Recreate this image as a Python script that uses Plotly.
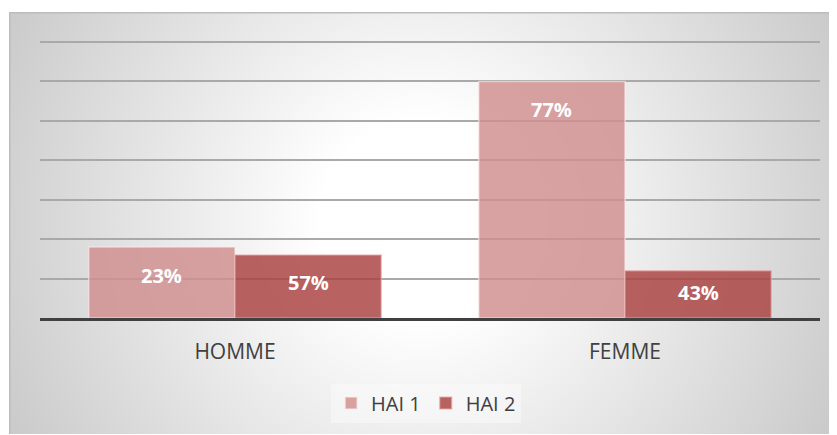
import base64
import plotly.graph_objects as go

categories = ["HOMME", "FEMME"]
hai1_values = [18, 60]
hai2_values = [16, 12]
series_names = ["HAI 1", "HAI 2"]

# percentage of each gender within each HAI series
hai1_pct = [f"{round(100 * v / sum(hai1_values)):d}%" for v in hai1_values]
hai2_pct = [f"{round(100 * v / sum(hai2_values)):d}%" for v in hai2_values]

OFF = 8  # default body margin of the page
W, H = 837 - OFF, 435 - OFF
ML, MT = 40 - OFF, 40 - OFF
MR, MB = 17, 117
PW, PH = W - ML - MR, H - MT - MB
YMAX = 70.5

# radial gradient background (Excel style)
gx, gy = 9 - OFF, 12 - OFF
gw, gh = 828, 422
svg = f'''<svg xmlns="http://www.w3.org/2000/svg" width="{gw}" height="{gh}" viewBox="0 0 {gw} {gh}">
<defs><radialGradient id="g" gradientUnits="userSpaceOnUse" cx="411" cy="208" r="490">
<stop offset="0" stop-color="#ffffff"/><stop offset="0.2" stop-color="#ffffff"/>
<stop offset="1" stop-color="#c6c6c6"/></radialGradient></defs>
<rect x="0" y="0" width="{gw}" height="{gh}" fill="url(#g)"/>
<path d="M0.75,{gh} V0.75 H{gw}" fill="none" stroke="#bcbcbc" stroke-width="1.5"/>
</svg>'''
svg_uri = "data:image/svg+xml;base64," + base64.b64encode(svg.encode()).decode()

fig = go.Figure()
fig.add_trace(go.Bar(
    name=series_names[0], x=categories, y=hai1_values,
    marker=dict(color="rgba(207,141,141,0.82)", line=dict(color="rgba(255,235,235,0.6)", width=1.5)),
    hoverinfo="skip",
))
fig.add_trace(go.Bar(
    name=series_names[1], x=categories, y=hai2_values,
    marker=dict(color="rgba(168,64,62,0.82)", line=dict(color="rgba(235,170,170,0.6)", width=1.5)),
    hoverinfo="skip",
))

bargap = 0.25
bw = (1 - bargap) / 2
px_per_unit = PH / YMAX
annotations = []
for i, cat in enumerate(categories):
    for s, (vals, labs) in enumerate([(hai1_values, hai1_pct), (hai2_values, hai2_pct)]):
        v = vals[i]
        h = v * px_per_unit
        annotations.append(dict(
            x=i + (s - 0.5) * bw, y=v, xref="x", yref="y",
            text=f"<b>{labs[i]}</b>", showarrow=False,
            yshift=-min(28, h / 2 - 2), yanchor="middle",
            font=dict(family="Open Sans", size=20, color="white"),
        ))

fig.update_layout(
    width=W, height=H,
    margin=dict(l=ML, r=MR, t=MT, b=MB, pad=0),
    paper_bgcolor="white", plot_bgcolor="rgba(0,0,0,0)",
    barmode="group", bargap=bargap, bargroupgap=0,
    font=dict(family="Open Sans", color="#404040"),
    showlegend=True,
    legend=dict(
        orientation="h", x=0.495, xanchor="center", y=-85 / PH, yanchor="middle",
        font=dict(size=20, color="#404040"), bgcolor="rgba(250,250,250,0.55)",
        itemclick=False, itemdoubleclick=False,
    ),
    annotations=annotations,
    images=[dict(
        source=svg_uri, xref="paper", yref="paper",
        x=(gx - ML) / PW, y=(H - MB - gy) / PH, sizex=gw / PW, sizey=gh / PH,
        xanchor="left", yanchor="top", sizing="stretch", layer="below",
    )],
    xaxis=dict(
        type="category", showgrid=False, showline=True, linecolor="#404040", linewidth=3,
        ticks="", tickfont=dict(size=21, color="#404040"), ticklabelstandoff=13,
    ),
    yaxis=dict(
        range=[0, YMAX], tick0=0, dtick=10, showticklabels=False, showgrid=True,
        gridcolor="#a9a9a9", gridwidth=1.5, zeroline=False, showline=False,
    ),
)

fig.write_html("out.html")
